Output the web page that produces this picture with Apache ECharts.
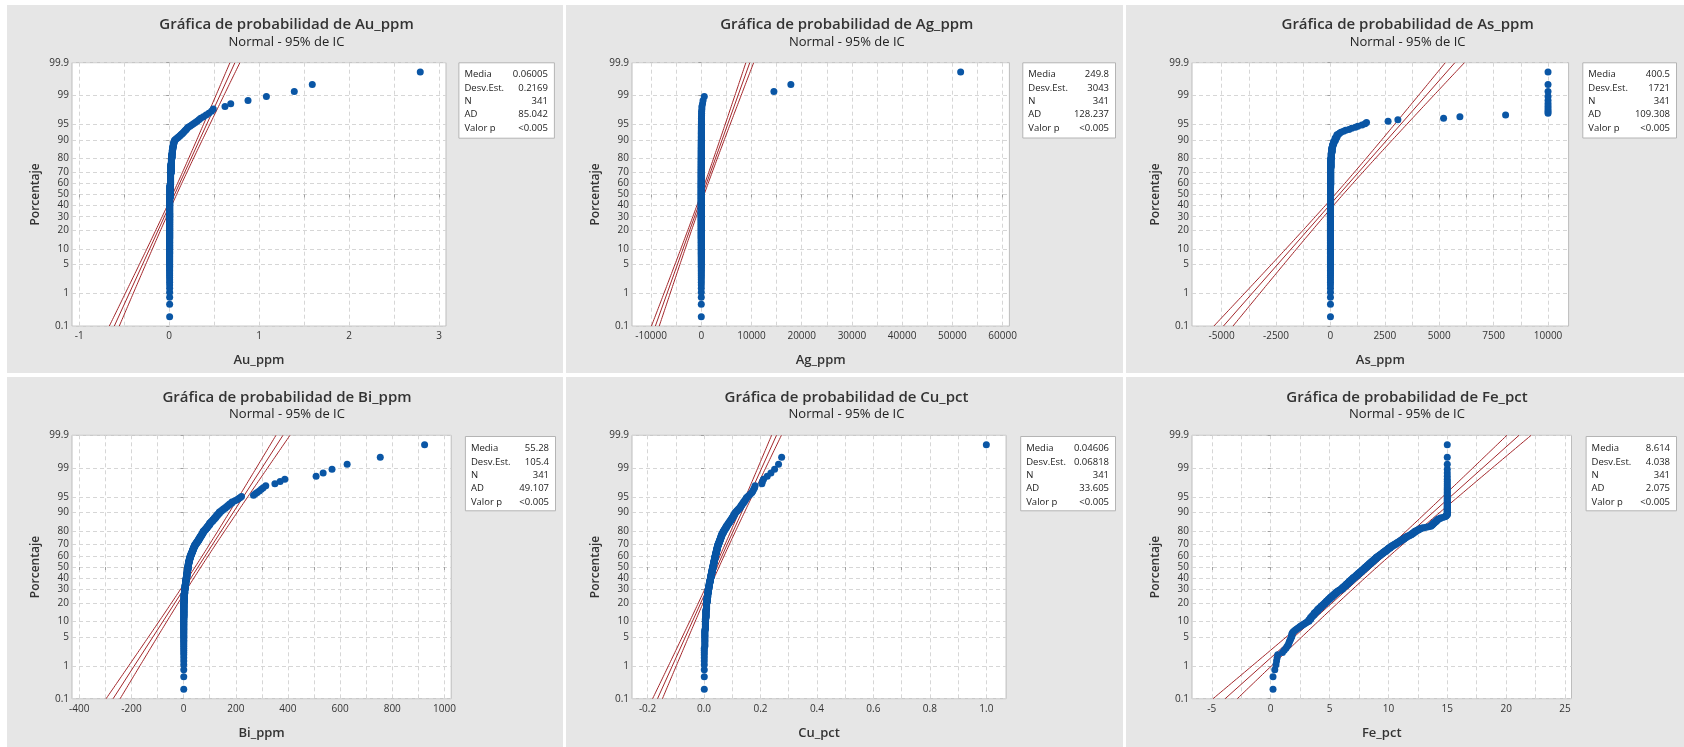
<!DOCTYPE html>
<html><head><meta charset="utf-8">
<script src="https://cdn.jsdelivr.net/npm/echarts@6/dist/echarts.min.js"></script>
<style>html,body{margin:0;padding:0;background:#fff}#c{width:1684px;height:747px}</style>
</head><body><div id="c"></div><script>
// ---------- DATA ----------
const probTicks = [0.1,1,5,10,20,30,40,50,60,70,80,90,95,99,99.9];
const probLabels = ['0.1','1','5','10','20','30','40','50','60','70','80','90','95','99','99.9'];

const variableNames = ['Au_ppm','Ag_ppm','As_ppm','Bi_ppm','Cu_pct','Fe_pct'];
const meanValues = [0.06005,249.8,400.5,55.28,0.04606,8.614];
const sdValues = [0.2169,3043,1721,105.4,0.06818,4.038];
const nValues = [341,341,341,341,341,341];
const meanText = ['0.06005','249.8','400.5','55.28','0.04606','8.614'];
const sdText = ['0.2169','3043','1721','105.4','0.06818','4.038'];
const nText = ['341','341','341','341','341','341'];
const adText = ['85.042','128.237','109.308','49.107','33.605','2.075'];
const pValueText = ['<0.005','<0.005','<0.005','<0.005','<0.005','<0.005'];
const statLabels = ['Media','Desv.Est.','N','AD','Valor p'];

// sorted sample values (distinct value + how many times it occurs)
const auValues = [0.005,0.01,0.015,0.02,0.025,0.03,0.035,0.04,0.045,0.05,0.055,0.06,0.07,0.08,0.09,0.1,0.11,0.12,0.13,0.14,0.15,0.16,0.17,0.18,0.19,0.2,0.21,0.23,0.25,0.27,0.29,0.31,0.33,0.35,0.38,0.41,0.44,0.47,0.49,0.62,0.684,0.876,1.08,1.39,1.59,2.79];
const auCounts = [160,40,35,25,13,10,8,5,4,3,2,2,1,1,1,1,1,1,1,1,1,1,1,1,1,1,1,1,1,1,1,1,1,1,1,1,1,1,1,1,1,1,1,1,1,1];

const agValues = [0.25,0.5,1,2,3,5,8,12,20,35,60,120,250,350,600,14460,17840,51650];
const agCounts = [60,80,70,40,25,20,12,10,8,5,3,2,1,1,1,1,1,1];

const asValues = [2.5,5,10,20,40,70,100,150,220,300,380,420,480,600,700,850,980,1150,1260,1450,1590,1660,2650,3100,5200,5950,8050,10000];
const asCounts = [120,80,50,23,12,10,5,5,5,4,1,1,1,1,1,1,1,1,1,1,1,1,1,1,1,1,1,10];

const biValues = [0.5,1,2,4,6,8,10,12,14,16,18,20,22,25,28,31,34,37,40,43,47,51,55,59,63,67,71,75,80,85,90,95,100,106,112,118,124,130,137,145,152,160,168,176,185,195,203,210,216,222,268,275,282,290,298,305,315,350,370,388,508,535,569,627,754,924];
const biCounts = [40,30,20,13,12,12,10,12,11,11,10,8,8,8,6,6,6,6,5,5,4,4,4,5,4,4,4,5,3,3,4,3,4,3,3,3,3,3,3,2,2,2,2,2,2,1,1,1,1,1,1,1,1,1,1,1,1,1,1,1,1,1,1,1,1,1];

const cuValues = [0.001,0.003,0.005,0.007,0.009,0.011,0.013,0.015,0.017,0.019,0.021,0.023,0.025,0.027,0.029,0.031,0.033,0.035,0.037,0.039,0.041,0.043,0.045,0.047,0.049,0.052,0.055,0.058,0.061,0.064,0.068,0.072,0.076,0.08,0.084,0.088,0.092,0.096,0.1,0.104,0.108,0.112,0.117,0.122,0.127,0.131,0.135,0.14,0.145,0.15,0.155,0.16,0.165,0.17,0.173,0.176,0.179,0.181,0.205,0.207,0.211,0.224,0.237,0.25,0.264,0.275,1.0];
const cuCounts = [10,14,15,15,15,12,11,11,9,9,8,8,9,8,9,8,9,9,8,8,7,7,7,7,6,6,6,6,6,5,5,4,4,4,3,3,3,3,3,3,3,2,2,2,2,2,2,2,2,2,1,1,1,1,1,1,1,1,1,1,1,1,1,1,1,1,1];

const feValues = [0.2,0.35,0.45,0.5,0.55,0.6,1.0,1.15,1.3,1.4,1.5,1.55,1.6,1.65,1.7,1.75,1.8,1.85,1.9,2.0,2.1,2.2,2.3,2.4,2.5,2.6,2.7,2.8,2.9,3.0,3.1,3.25,3.4,3.55,3.7,3.85,4.0,4.15,4.3,4.45,4.6,4.75,4.9,5.05,5.2,5.35,5.5,5.65,5.8,5.95,6.1,6.25,6.4,6.55,6.7,6.85,7.0,7.15,7.3,7.45,7.6,7.75,7.9,8.05,8.2,8.35,8.5,8.65,8.8,8.95,9.1,9.25,9.4,9.55,9.7,9.85,10.0,10.15,10.3,10.45,10.6,10.75,10.9,11.05,11.2,11.35,11.5,11.65,11.8,11.95,12.1,12.25,12.4,12.55,12.7,12.85,13.0,13.2,13.4,13.6,13.7,13.8,13.9,14.0,14.1,14.2,14.4,14.6,14.8,14.9,15.0];
const feCounts = [2,1,1,1,1,1,1,1,1,1,1,1,1,1,1,1,3,1,1,1,1,1,1,1,1,1,1,1,1,1,1,3,4,3,4,3,4,3,4,3,4,4,4,4,4,4,4,4,3,3,5,4,5,5,5,5,5,4,5,5,5,5,5,5,5,5,5,5,5,5,4,4,4,4,4,4,4,4,3,3,3,3,3,3,3,3,3,2,2,3,3,3,2,2,2,1,1,1,1,2,2,2,2,2,2,2,2,1,1,2,38];

// x-axis tick labels
const auTicks = [-1,0,1,2,3];
const agTicks = [-10000,0,10000,20000,30000,40000,50000,60000];
const asTicks = [-5000,-2500,0,2500,5000,7500,10000];
const biTicks = [-400,-200,0,200,400,600,800,1000];
const cuTicks = [-0.2,0,0.2,0.4,0.6,0.8,1.0];
const feTicks = [-5,0,5,10,15,20,25];
const tickDecimals = [0,0,0,0,1,0];
const gridSteps = [0.5,5000,1250,100,0.1,2.5];
const xMin = [-1.08,-13800,-6360,-428,-0.255,-6.68];
const xMax = [3.076,61360,10945,1026,1.07,25.55];

// ---------- LAYOUT / STYLE ----------
const FONT = '"Open Sans", "Noto Sans", sans-serif';
const layout = {
  plotLeft: [72,632,1192,72,632,1192],
  plotRight: [446,1009.4,1568.6,451.2,1006.1,1571.5],
  plotTop: [62.7,62.7,62.7,435.3,435.3,435.3],
  plotH: 263.4,
  panelX: [7,566,1126,7,566,1126],
  panelW: [556,557,558,556,557,558],
  panelY: [5,5,5,377,377,377],
  panelH: [368,368,368,370,370,370],
  titleX: [286.5,846.8,1407.6,287,846.5,1407],
  titleY: [24.3,24.3,24.3,397.3,397.3,397.3],
  subY: [41.8,41.8,41.8,414.6,414.6,414.6],
  box: [[458.4,62.3,95.5,75.4],[1022.3,62.3,92.7,75.2],[1582.3,62.3,93.7,75.2],
        [464.9,436,90.1,74.3],[1020.2,436,94.8,74.3],[1585.6,436,90.4,74.3]]
};
const DOT = '#0a56a5', RED = '#a3272b';

// ---------- HELPERS ----------
function invNorm(p){
  const a=[-3.969683028665376e+01,2.209460984245205e+02,-2.759285104469687e+02,1.383577518672690e+02,-3.066479806614716e+01,2.506628277459239e+00];
  const b=[-5.447609879822406e+01,1.615858368580409e+02,-1.556989798598866e+02,6.680131188771972e+01,-1.328068155288572e+01];
  const c=[-7.784894002430293e-03,-3.223964580411365e-01,-2.400758277161838e+00,-2.549732539343734e+00,4.374664141464968e+00,2.938163982698783e+00];
  const d=[7.784695709041462e-03,3.224671290700398e-01,2.445134137142996e+00,3.754408661907416e+00];
  const pl=0.02425, ph=1-pl; let q,r;
  if(p<pl){q=Math.sqrt(-2*Math.log(p));return (((((c[0]*q+c[1])*q+c[2])*q+c[3])*q+c[4])*q+c[5])/((((d[0]*q+d[1])*q+d[2])*q+d[3])*q+1);}
  if(p>ph){q=Math.sqrt(-2*Math.log(1-p));return -(((((c[0]*q+c[1])*q+c[2])*q+c[3])*q+c[4])*q+c[5])/((((d[0]*q+d[1])*q+d[2])*q+d[3])*q+1);}
  q=p-0.5;r=q*q;return (((((a[0]*r+a[1])*r+a[2])*r+a[3])*r+a[4])*r+a[5])*q/(((((b[0]*r+b[1])*r+b[2])*r+b[3])*r+b[4])*r+1);
}
function expand(vals, counts){ const out=[]; vals.forEach((v,i)=>{for(let k=0;k<counts[i];k++) out.push(v);}); return out; }
const round6 = v => Math.round(v*1e6)/1e6;

const zTicks = probTicks.map(p => invNorm(p/100));
const zLo = zTicks[0], zHi = zTicks[zTicks.length-1];
const yFormatter = v => { let best=0; for(let k=1;k<zTicks.length;k++){ if(Math.abs(zTicks[k]-v)<Math.abs(zTicks[best]-v)) best=k; } return probLabels[best]; };

const samples = [expand(auValues,auCounts),expand(agValues,agCounts),expand(asValues,asCounts),
                 expand(biValues,biCounts),expand(cuValues,cuCounts),expand(feValues,feCounts)];
const xTicksAll = [auTicks,agTicks,asTicks,biTicks,cuTicks,feTicks];

const grids=[], xAxes=[], yAxes=[], series=[], graphics=[];
for (let i=0;i<6;i++){
  graphics.push({type:'rect', z:-10, silent:true, shape:{x:layout.panelX[i], y:layout.panelY[i], width:layout.panelW[i], height:layout.panelH[i]}, style:{fill:'#e6e6e6'}});
  graphics.push({type:'text', z:10, x:layout.titleX[i], y:layout.titleY[i], style:{text:'Gráfica de probabilidad de '+variableNames[i], font:'600 15px '+FONT, fill:'#333', align:'center', verticalAlign:'middle'}});
  graphics.push({type:'text', z:10, x:layout.titleX[i], y:layout.subY[i], style:{text:'Normal - 95% de IC', font:'13px '+FONT, fill:'#222', align:'center', verticalAlign:'middle'}});
  const bx = layout.box[i];
  graphics.push({type:'rect', z:10, shape:{x:bx[0]+0.5, y:bx[1]+0.5, width:bx[2], height:bx[3]}, style:{fill:'#fff', stroke:'#b4b4b4', lineWidth:1}});
  const vals = [meanText[i], sdText[i], nText[i], adText[i], pValueText[i]];
  const rowY = [12.4,26,39.4,52.4,66];
  for (let r=0;r<5;r++){
    graphics.push({type:'text', z:11, x:bx[0]+6, y:bx[1]+rowY[r], style:{text:statLabels[r], font:'9.5px '+FONT, fill:'#222', align:'left', verticalAlign:'middle'}});
    graphics.push({type:'text', z:11, x:bx[0]+bx[2]-6, y:bx[1]+rowY[r], style:{text:vals[r], font:'9.5px '+FONT, fill:'#222', align:'right', verticalAlign:'middle'}});
  }

  grids.push({left:layout.plotLeft[i], top:layout.plotTop[i], width:layout.plotRight[i]-layout.plotLeft[i], height:layout.plotH,
    show:true, backgroundColor:'#fff', borderColor:'#bdbdbd', borderWidth:1, containLabel:false, outerBoundsMode:'none'});

  const ticks = xTicksAll[i];
  const gridVals = [];
  for (let v=ticks[0]; v<=ticks[ticks.length-1]+gridSteps[i]*1e-6; v+=gridSteps[i]) gridVals.push(round6(v));
  const dec = tickDecimals[i];
  xAxes.push({gridIndex:i, type:'value', min:xMin[i], max:xMax[i],
    axisLine:{show:false},
    axisTick:{show:true, customValues:gridVals, length:3, lineStyle:{color:'#a0a0a0'}},
    axisLabel:{customValues:ticks, formatter:v=>Number(v).toFixed(dec), fontSize:10, color:'#333', fontFamily:FONT, margin:5, hideOverlap:false, showMinLabel:true, showMaxLabel:true},
    splitLine:{show:true, lineStyle:{color:'#d6d6d6', type:[4,3], width:1}},
    name:variableNames[i], nameLocation:'middle', nameGap:28,
    nameTextStyle:{fontSize:13, fontWeight:600, color:'#333', fontFamily:FONT}});
  yAxes.push({gridIndex:i, type:'value', min:zLo, max:zHi,
    axisLine:{show:false},
    axisTick:{show:true, customValues:zTicks, length:3, lineStyle:{color:'#a0a0a0'}},
    axisLabel:{customValues:zTicks, formatter:yFormatter, fontSize:10, color:'#333', fontFamily:FONT, margin:3, hideOverlap:false, showMinLabel:true, showMaxLabel:true},
    splitLine:{show:true, lineStyle:{color:'#d6d6d6', type:[4,3], width:1}},
    name:'Porcentaje', nameLocation:'middle', nameGap:30,
    nameTextStyle:{fontSize:12, fontWeight:600, color:'#333', fontFamily:FONT}});

  const data = samples[i];
  const n = data.length;
  const pts = data.map((v,k)=>[v, invNorm((k+1-0.3)/(n+0.4))]);
  const m = meanValues[i], s = sdValues[i], nn = nValues[i];
  const hw = z => 1.96*s*Math.sqrt(1/nn + z*z/(2*nn));
  const zs=[]; for(let k=0;k<=120;k++) zs.push(zLo+(zHi-zLo)*k/120);
  const lineBase = {type:'line', xAxisIndex:i, yAxisIndex:i, showSymbol:false, symbol:'none', silent:true, clip:true, z:2,
                    lineStyle:{color:RED, width:1}, animation:false};
  series.push(Object.assign({}, lineBase, {data:[[m+s*zLo,zLo],[m+s*zHi,zHi]]}));
  series.push(Object.assign({}, lineBase, {data:zs.map(z=>[m+s*z-hw(z),z])}));
  series.push(Object.assign({}, lineBase, {data:zs.map(z=>[m+s*z+hw(z),z])}));
  series.push({type:'scatter', xAxisIndex:i, yAxisIndex:i, data:pts, symbolSize:7, z:3, silent:true, clip:true,
               itemStyle:{color:DOT, opacity:1}, animation:false});
}

const chart = echarts.init(document.getElementById('c'), null, {renderer:'canvas'});
chart.setOption({backgroundColor:'#fff', animation:false, grid:grids, xAxis:xAxes, yAxis:yAxes, series:series, graphic:{elements:graphics}});
</script></body></html>
